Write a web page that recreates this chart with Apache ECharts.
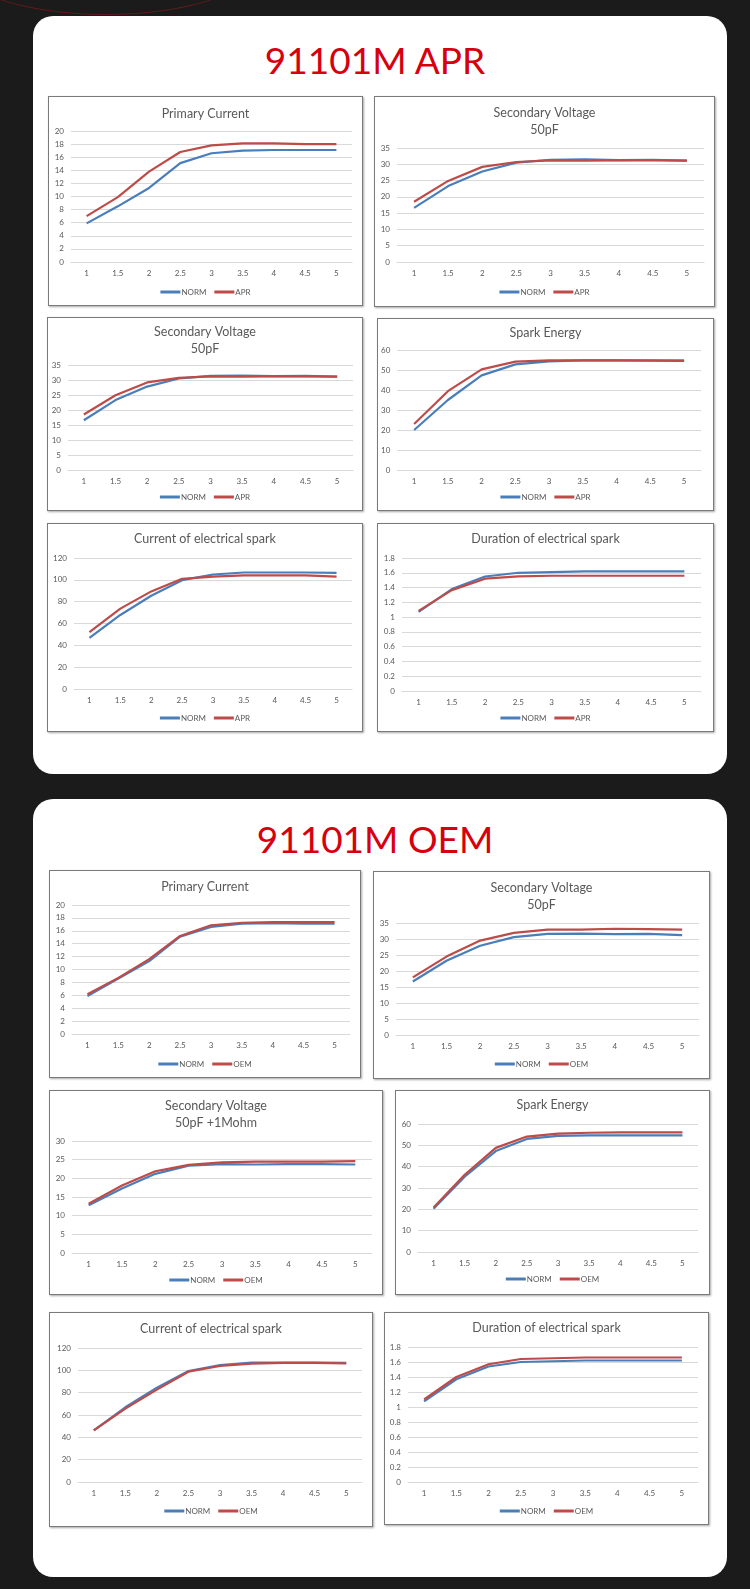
<!DOCTYPE html>
<html>
<head>
<meta charset="utf-8">
<script src="https://cdn.jsdelivr.net/npm/echarts@6/dist/echarts.min.js"></script>
<style>
body{margin:0;background:#1b1b1b;width:750px;height:1589px;overflow:hidden;position:relative;font-family:Lato,sans-serif}
.arc{position:absolute;left:-45px;top:-90px;width:300px;height:103px;border:1px solid rgba(150,25,25,.55);border-radius:50%}
.panel{position:absolute;left:33px;width:694px;background:#fff;border-radius:20px}
.head{position:absolute;left:0;width:750px;text-align:center;color:#d7000f;font-size:37px;line-height:44px;font-family:Lato,sans-serif}
.box{position:absolute;border:1px solid #7a7a7a;box-shadow:1px 1px 2px rgba(0,0,0,.35);background:#fff;box-sizing:border-box}
.box div.c{width:100%;height:100%}
</style>
</head>
<body>
<div class="arc"></div>
<div class="panel" style="top:16px;height:758px"></div>
<div class="panel" style="top:799px;height:778px"></div>
<div class="head" style="top:38px">91101M APR</div>
<div class="head" style="top:817px">91101M OEM</div>
<script>
// x categories
var xCats = ['1', '1.5', '2', '2.5', '3', '3.5', '4', '4.5', '5'];

// 91101M APR
var aprPrimaryNorm = [5.9, 8.5, 11.3, 15.1, 16.6, 17.0, 17.1, 17.1, 17.1];
var aprPrimaryApr = [7.0, 9.9, 13.8, 16.8, 17.8, 18.1, 18.1, 18.0, 18.0];
var aprSecNorm = [16.6, 23.3, 27.8, 30.5, 31.4, 31.5, 31.3, 31.4, 31.1];
var aprSecApr = [18.5, 24.9, 29.2, 30.7, 31.2, 31.1, 31.2, 31.2, 31.1];
var aprEnergyNorm = [20.0, 35.0, 47.3, 52.8, 54.3, 54.8, 54.8, 54.8, 54.8];
var aprEnergyApr = [23.0, 39.4, 50.3, 54.2, 54.8, 54.8, 54.8, 54.7, 54.5];
var aprSparkCurNorm = [46.8, 67.8, 85.4, 99.7, 104.9, 106.7, 106.7, 106.7, 106.4];
var aprSparkCurApr = [52.0, 73.6, 89.4, 100.9, 103.0, 104.0, 104.0, 104.0, 103.0];
var aprDurNorm = [1.07, 1.38, 1.55, 1.60, 1.61, 1.62, 1.62, 1.62, 1.62];
var aprDurApr = [1.085, 1.365, 1.52, 1.55, 1.56, 1.56, 1.56, 1.56, 1.56];

// 91101M OEM
var oemPrimaryNorm = [5.9, 8.6, 11.3, 15.1, 16.6, 17.1, 17.2, 17.1, 17.1];
var oemPrimaryOem = [6.15, 8.7, 11.6, 15.2, 16.85, 17.25, 17.35, 17.35, 17.35];
var oemSecNorm = [16.7, 23.2, 27.9, 30.6, 31.6, 31.7, 31.5, 31.6, 31.2];
var oemSecOem = [18.0, 24.5, 29.5, 31.9, 32.9, 32.9, 33.2, 33.1, 32.9];
var oemSecRNorm = [12.8, 17.25, 21.2, 23.4, 23.8, 23.7, 23.8, 23.8, 23.7];
var oemSecROem = [13.2, 18.1, 21.9, 23.6, 24.3, 24.45, 24.5, 24.5, 24.6];
var oemEnergyNorm = [20.3, 35.3, 47.3, 53.0, 54.4, 54.7, 54.7, 54.7, 54.7];
var oemEnergyOem = [20.9, 36.2, 48.8, 54.1, 55.5, 55.9, 56.1, 56.1, 56.1];
var oemSparkCurNorm = [46.3, 66.9, 84.5, 99.4, 104.8, 106.9, 106.9, 106.9, 106.6];
var oemSparkCurOem = [46.3, 65.7, 82.7, 98.8, 103.9, 106.0, 106.6, 106.6, 106.3];
var oemDurNorm = [1.076, 1.37, 1.54, 1.60, 1.61, 1.62, 1.62, 1.62, 1.62];
var oemDurOem = [1.10, 1.40, 1.57, 1.64, 1.65, 1.66, 1.66, 1.66, 1.66];

var blue = '#4a7ebb', red = '#be4b48';

var charts = [
    {box:[48,96,315,210], title:'Primary Current', tt:8, grid:[22,10,34,43], lg:191, max:20, step:2, other:'APR', a:aprPrimaryNorm, b:aprPrimaryApr},
    {box:[374,96,341,211], title:'Secondary Voltage\n50pF', tt:7, grid:[22,10,51,44], lg:191, max:35, step:5, other:'APR', a:aprSecNorm, b:aprSecApr},
    {box:[47,317,316,194], title:'Secondary Voltage\n50pF', tt:5, grid:[20,9,47,40], lg:175, max:35, step:5, other:'APR', a:aprSecNorm, b:aprSecApr},
    {box:[377,318,337,193], title:'Spark Energy', tt:5, grid:[17,12,31,40], lg:174, max:60, step:10, other:'APR', a:aprEnergyNorm, b:aprEnergyApr},
    {box:[47,523,316,209], title:'Current of electrical spark', tt:6, grid:[26,10,34,42], lg:190, max:120, step:20, other:'APR', a:aprSparkCurNorm, b:aprSparkCurApr},
    {box:[377,523,337,209], title:'Duration of electrical spark', tt:6, grid:[24,12,34,40], lg:190, max:1.8, step:0.2, other:'APR', a:aprDurNorm, b:aprDurApr},
    {box:[49,870,312,208], title:'Primary Current', tt:7, grid:[22,10,34,43], lg:189, max:20, step:2, other:'OEM', a:oemPrimaryNorm, b:oemPrimaryOem},
    {box:[373,871,337,208], title:'Secondary Voltage\n50pF', tt:7, grid:[22,10,51,43], lg:188, max:35, step:5, other:'OEM', a:oemSecNorm, b:oemSecOem},
    {box:[49,1090,334,205], title:'Secondary Voltage\n50pF +1Mohm', tt:6, grid:[22,10,50,41], lg:185, max:30, step:5, other:'OEM', a:oemSecRNorm, b:oemSecROem},
    {box:[395,1090,315,205], title:'Spark Energy', tt:5, grid:[22,11,33,42], lg:184, max:60, step:10, other:'OEM', a:oemEnergyNorm, b:oemEnergyOem},
    {box:[49,1312,324,215], title:'Current of electrical spark', tt:7, grid:[28,10,35,44], lg:194, max:120, step:20, other:'OEM', a:oemSparkCurNorm, b:oemSparkCurOem},
    {box:[384,1312,325,213], title:'Duration of electrical spark', tt:6, grid:[23,10,34,42], lg:194, max:1.8, step:0.2, other:'OEM', a:oemDurNorm, b:oemDurOem}
];

charts.forEach(function (c) {
    var box = document.createElement('div');
    box.className = 'box';
    box.style.left = c.box[0] + 'px';
    box.style.top = c.box[1] + 'px';
    box.style.width = c.box[2] + 'px';
    box.style.height = c.box[3] + 'px';
    var inner = document.createElement('div');
    inner.className = 'c';
    box.appendChild(inner);
    document.body.appendChild(box);

    echarts.init(inner).setOption({
        animation: false,
        textStyle: {fontFamily: 'Lato'},
        title: {
            text: c.title,
            left: 'center',
            top: c.tt,
            padding: 0,
            textStyle: {fontSize: 12.5, fontWeight: 'normal', color: '#595959', lineHeight: 17, fontFamily: 'Lato'}
        },
        legend: {
            data: ['NORM', c.other],
            left: 'center',
            top: c.lg,
            padding: 0,
            icon: 'rect',
            itemWidth: 20,
            itemHeight: 3,
            itemGap: 8,
            textStyle: {fontSize: 8, color: '#595959', padding: [0, 0, 0, -4]}
        },
        grid: {left: c.grid[0], right: c.grid[1], top: c.grid[2], bottom: c.grid[3]},
        xAxis: {
            type: 'category',
            data: xCats,
            boundaryGap: true,
            axisLine: {lineStyle: {color: '#d9d9d9'}},
            axisTick: {show: false},
            axisLabel: {fontSize: 8, color: '#595959', margin: 7}
        },
        yAxis: {
            type: 'value',
            min: 0,
            max: c.max,
            interval: c.step,
            axisLine: {show: false},
            axisTick: {show: false},
            axisLabel: {fontSize: 8, color: '#595959', margin: 7},
            splitLine: {lineStyle: {color: '#d9d9d9'}}
        },
        series: [
            {name: 'NORM', type: 'line', data: c.a, symbol: 'none', lineStyle: {width: 2.2, color: blue}, itemStyle: {color: blue}},
            {name: c.other, type: 'line', data: c.b, symbol: 'none', lineStyle: {width: 2.2, color: red}, itemStyle: {color: red}}
        ]
    });
});
</script>
</body>
</html>
